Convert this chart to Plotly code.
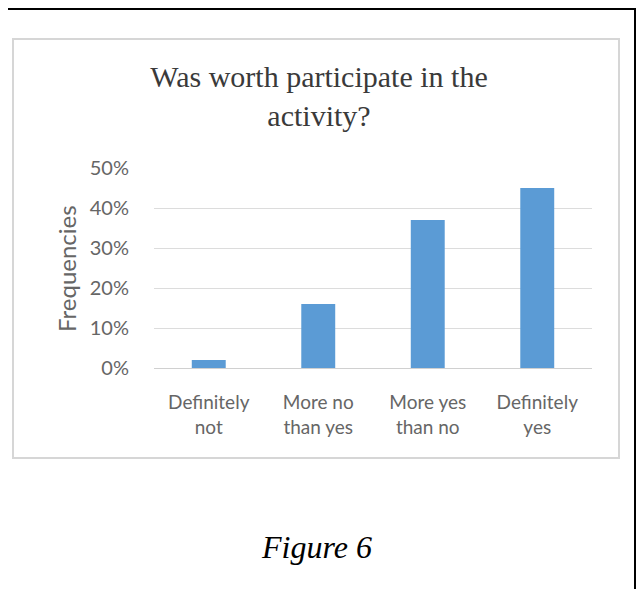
import plotly.graph_objects as go

categories = ["Definitely<br>not", "More no<br>than yes", "More yes<br>than no", "Definitely<br>yes"]
values = [0.02, 0.16, 0.37, 0.45]
y_ticks = [0, 0.1, 0.2, 0.3, 0.4, 0.5]
y_tick_labels = ["0%", "10%", "20%", "30%", "40%", "50%"]
chart_title = "Was worth participate in the<br>activity?"
y_title = "Frequencies"
caption = "Figure 6"

OFF = 8  # default page body margin
W, H = 644 - 2 * OFF, 597 - 2 * OFF  # figure fits the window without scrollbars


def px(x):
    return (x - OFF) / W


def py(y):
    return 1 - (y - OFF) / H


fig = go.Figure(
    go.Bar(x=categories, y=values, marker=dict(color="#5B9BD5", line=dict(width=0)))
)

fig.update_layout(
    width=W, height=H,
    margin=dict(l=0, r=0, t=0, b=0, autoexpand=False),
    paper_bgcolor="white", plot_bgcolor="white",
    showlegend=False,
    bargap=0.69,
    title=dict(
        text=chart_title,
        x=px(319), xanchor="center",
        y=py(87), yanchor="middle", yref="container",
        automargin=False,
        font=dict(family="Liberation Serif, Times New Roman, serif", size=30, color="#3a3a3a"),
    ),
    xaxis=dict(
        domain=[px(154), px(592)],
        automargin=False,
        showgrid=False, zeroline=False,
        showline=False,
        tickfont=dict(family="Lato, sans-serif", size=19, color="#666666"),
        ticks="", ticklabelstandoff=21,
    ),
    yaxis=dict(
        domain=[py(368), py(168)],
        automargin=False,
        range=[0, 0.5],
        tickvals=y_ticks, ticktext=y_tick_labels,
        showgrid=True, gridcolor="#dcdcdc", gridwidth=1,
        zeroline=True, zerolinecolor="#d0d0d0", zerolinewidth=1,
        showline=False, ticks="",
        ticklabelstandoff=24,
        tickfont=dict(family="Lato, sans-serif", size=20, color="#666666"),
    ),
    shapes=[
        dict(type="rect", xref="paper", yref="paper",
             x0=px(13), x1=px(619), y0=py(458), y1=py(39),
             line=dict(color="#d6d6d6", width=2), layer="below"),
        dict(type="line", xref="paper", yref="paper",
             x0=0, x1=1, y0=py(9), y1=py(9),
             line=dict(color="black", width=2)),
        dict(type="line", xref="paper", yref="paper",
             x0=px(635), x1=px(635), y0=py(8), y1=0,
             line=dict(color="black", width=2)),
    ],
    annotations=[
        dict(text=y_title, xref="paper", yref="paper",
             x=px(66), y=py(268), xanchor="center", yanchor="middle",
             textangle=-90, showarrow=False,
             font=dict(family="Lato, sans-serif", size=24, color="#666666")),
        dict(text="<i>" + caption + "</i>", xref="paper", yref="paper",
             x=px(316), y=py(547), xanchor="center", yanchor="middle",
             showarrow=False,
             font=dict(family="Liberation Serif, Times New Roman, serif", size=32, color="black")),
    ],
)

fig.write_html("out.html")
